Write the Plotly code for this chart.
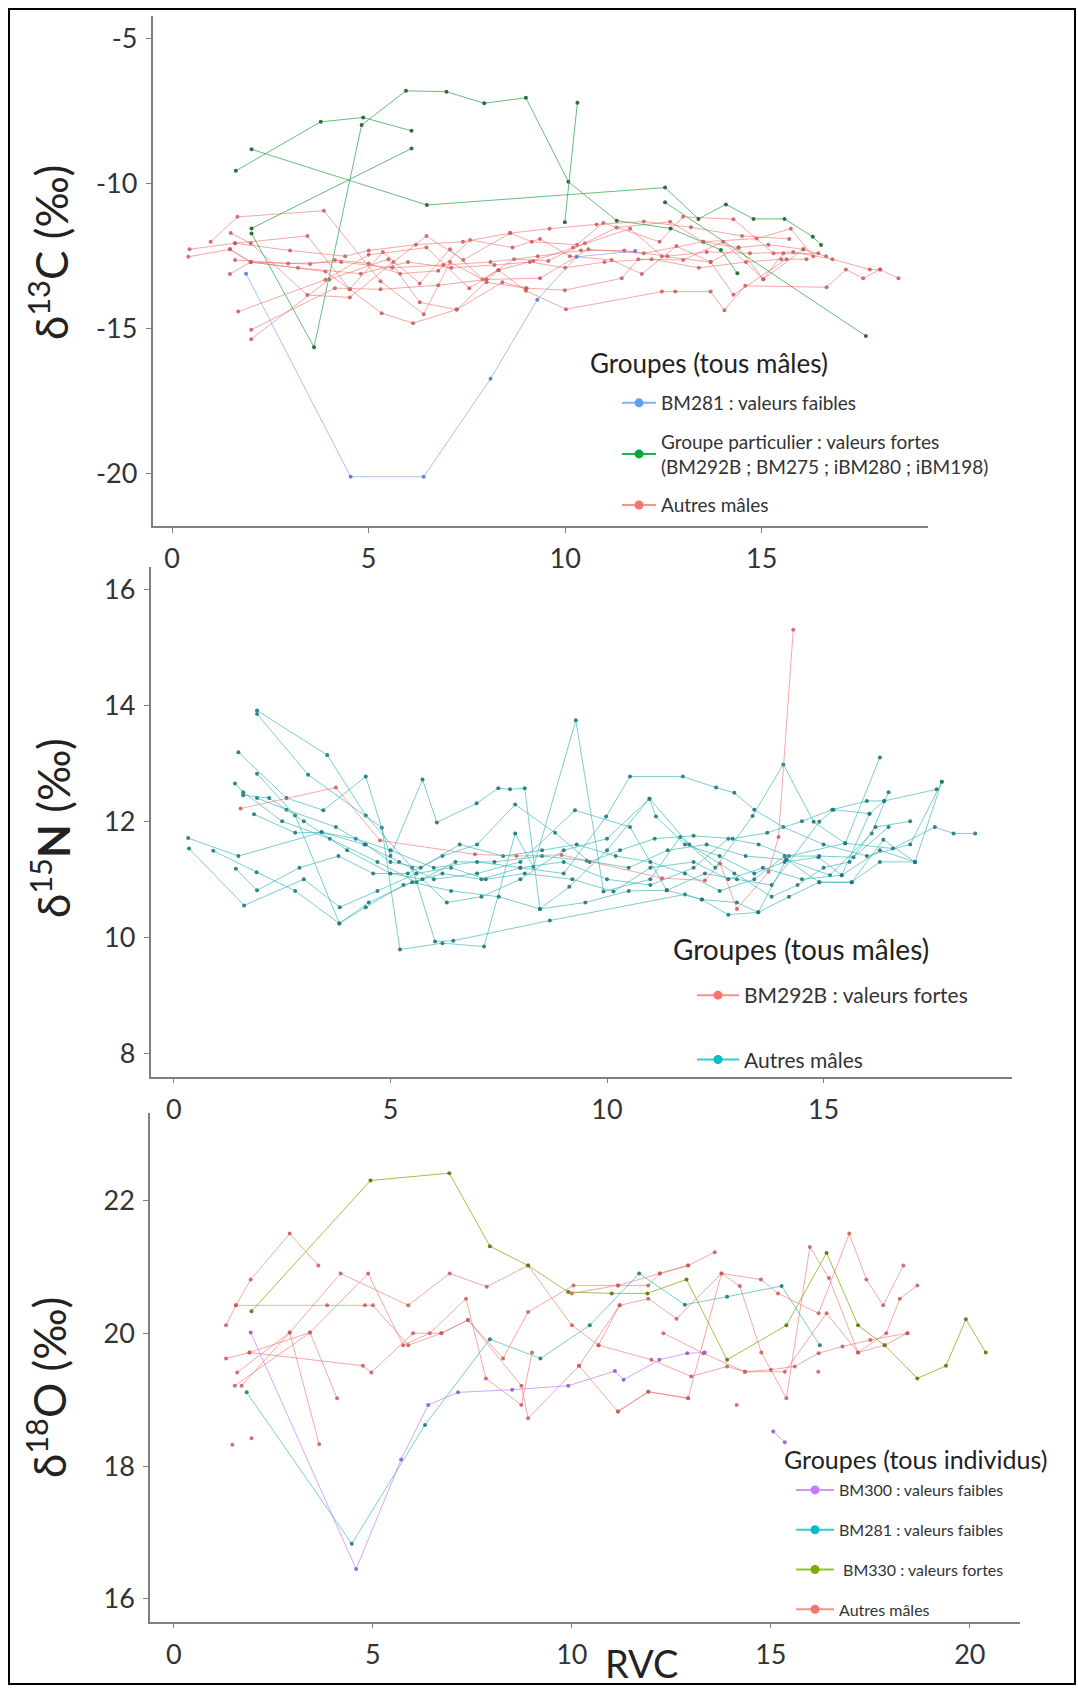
import plotly.graph_objects as go

W, H = 1078, 1691

# ---------------- Panel 1 : d13C ----------------
c13_ticks = [-5, -10, -15, -20]
c13_ticklabels = ["-5", "-10", "-15", "-20"]
x_ticks_1 = [0, 5, 10, 15]

c13_blue_x = [[1.88, 4.54, 6.40, 8.10, 9.29, 10.29, 11.78]]
c13_blue_y = [[-13.10, -20.11, -20.11, -16.73, -14.00, -12.52, -12.32]]

c13_green_x = [
    [1.62, 3.78, 4.86, 6.09],
    [2.02, 3.61, 4.82, 5.95, 6.98, 7.94, 9.00, 10.08, 11.31, 12.68, 13.96, 14.38],
    [2.02, 6.09],
    [2.02, 6.48, 12.54, 13.39, 14.09, 14.79, 15.58, 16.30, 16.51],
    [9.99, 10.31],
    [12.54, 17.65],
]
c13_green_y = [
    [-9.55, -7.86, -7.71, -8.17],
    [-11.71, -15.64, -7.97, -6.79, -6.82, -7.22, -7.03, -9.93, -11.27, -11.54, -12.28, -13.09],
    [-11.54, -8.78],
    [-8.81, -10.73, -10.13, -11.21, -10.71, -11.21, -11.21, -11.83, -12.11],
    [-11.33, -7.20],
    [-10.64, -15.25],
]

c13_red_x = [
    [0.44, 1.60, 3.44, 4.52, 5.33, 6.13, 7.24, 8.30, 9.00, 10.02, 12.46, 12.80, 13.70, 14.05, 14.58, 16.65, 17.14, 17.58, 18.01, 18.48],
    [0.41, 1.47, 2.00, 3.51, 4.14, 5.00, 5.80, 6.77, 7.58, 8.66, 9.36, 10.12, 11.18, 11.95, 12.83, 13.70, 14.41, 15.17, 16.06, 16.64],
    [0.98, 1.66, 3.86, 5.30, 6.40, 7.07, 7.90, 8.70, 9.57, 10.50, 11.31, 12.67, 13.51, 14.87, 15.74, 16.31],
    [1.49, 2.00, 3.44, 4.52, 5.63, 6.47, 7.41, 8.60, 9.15, 10.30, 10.97, 12.40, 13.00, 14.28, 15.30, 16.44],
    [1.47, 2.00, 3.90, 4.52, 5.36, 6.30, 7.07, 8.00, 9.00, 9.99, 11.44, 11.86, 13.00, 14.02, 15.04, 15.55],
    [1.68, 3.90, 5.00, 6.47, 7.56, 8.30, 9.19, 10.20, 11.65, 12.46, 13.70, 14.28, 15.63, 16.14],
    [2.01, 4.14, 5.30, 6.77, 8.00, 9.36, 10.59, 12.00, 13.51, 14.41, 15.04, 16.06],
    [2.01, 4.00, 5.50, 6.30, 7.24, 8.40, 9.02],
    [1.60, 2.95, 4.30, 5.60, 6.90, 8.10, 9.30, 10.40, 11.50, 12.60, 13.60, 14.70, 15.80, 16.80, 17.75, 18.01],
    [1.60, 3.00, 4.40, 5.00, 6.20, 7.40, 8.60, 9.60, 10.80, 12.00, 13.20, 14.50, 15.70],
    [1.47, 2.00, 3.20, 4.80, 6.00, 7.10, 8.20, 9.10, 10.00, 11.00, 12.20, 13.40, 14.60, 15.50],
]
c13_red_y = [
    [-12.26, -12.05, -11.80, -13.64, -14.47, -14.81, -14.34, -12.98, -13.69, -14.33, -13.72, -13.72, -13.72, -14.36, -13.52, -13.57, -12.96, -13.26, -12.96, -13.26],
    [-12.52, -12.26, -12.70, -12.77, -12.63, -12.75, -13.10, -13.00, -11.94, -12.20, -11.90, -12.50, -12.63, -13.11, -12.15, -12.70, -12.20, -12.10, -12.26, -12.50],
    [-12.00, -11.14, -10.93, -13.36, -14.50, -12.70, -13.30, -12.60, -12.66, -12.05, -11.51, -11.31, -12.00, -11.89, -11.55, -12.50],
    [-11.70, -12.05, -13.84, -13.92, -12.70, -11.80, -12.63, -11.70, -12.00, -12.10, -11.35, -12.00, -11.14, -11.22, -12.40, -12.40],
    [-13.11, -12.70, -13.03, -13.64, -12.35, -13.44, -12.26, -13.40, -13.60, -13.67, -13.26, -12.60, -12.63, -12.00, -13.29, -12.40],
    [-14.41, -13.31, -12.45, -12.20, -13.60, -12.98, -12.66, -12.20, -11.55, -12.50, -12.70, -13.83, -12.60, -12.60],
    [-15.04, -13.60, -13.64, -13.50, -13.30, -13.26, -12.26, -12.40, -12.00, -12.20, -13.29, -12.26],
    [-15.36, -13.30, -12.60, -14.09, -14.34, -13.40, -13.60],
    [-12.63, -12.75, -12.70, -12.90, -12.80, -12.70, -12.50, -12.30, -12.30, -12.50, -12.35, -12.40, -12.35, -12.60, -12.96, -12.96],
    [-12.05, -12.30, -12.50, -12.30, -12.10, -12.00, -11.70, -11.55, -11.40, -11.30, -11.50, -11.80, -11.90],
    [-12.26, -12.70, -12.90, -13.10, -12.70, -12.90, -12.80, -12.70, -12.90, -12.70, -12.60, -12.90, -12.70, -12.60],
]

# ---------------- Panel 2 : d15N ----------------
n15_ticks = [8, 10, 12, 14, 16]
x_ticks_2 = [0, 5, 10, 15]

n15_red_x = [[1.54, 3.74, 4.76, 6.95, 7.91, 8.95, 11.27, 12.26, 12.61, 13.00, 13.73, 13.96, 14.30]]
n15_red_y = [[12.22, 12.58, 11.67, 11.43, 11.40, 11.42, 11.02, 10.98, 11.27, 10.49, 11.13, 11.73, 15.30]]

n15_cyan_x = [
    [1.92, 3.54, 4.43, 5.50, 6.03, 6.45, 8.68, 11.80, 12.19, 12.80, 13.49, 14.14, 14.90, 15.65, 16.38, 17.11],
    [1.92, 3.10, 4.80, 5.22, 6.20, 7.16, 7.88, 8.30, 9.28, 9.92, 11.00, 11.69, 12.50, 13.36, 14.07, 14.77, 15.50, 16.30],
    [1.49, 2.60, 3.45, 4.43, 5.00, 5.74, 6.07, 6.99, 7.49, 7.76, 8.10, 8.45, 9.13, 10.00, 10.98, 11.13, 11.80, 12.60, 13.40, 14.10, 14.88, 15.42, 16.06],
    [1.92, 2.80, 3.82, 4.43, 5.30, 6.20, 7.10, 8.00, 9.00, 9.98, 10.53, 11.75, 12.52, 12.94, 13.40, 14.07, 15.00, 16.00, 17.00, 17.73],
    [1.41, 1.60, 2.50, 3.60, 4.70, 5.60, 6.50, 7.40, 8.50, 9.53, 10.50, 11.40, 12.30, 13.20, 14.14, 15.15, 16.11, 16.50],
    [1.85, 2.80, 3.41, 4.40, 5.20, 6.00, 7.00, 8.00, 9.26, 10.53, 11.38, 12.26, 13.00, 13.80, 14.90, 15.23, 16.06, 16.40],
    [0.33, 1.49, 3.41, 4.20, 5.00, 6.00, 7.00, 8.00, 9.00, 10.00, 11.00, 12.00, 12.80, 13.50, 14.20, 15.50, 16.60, 17.57, 18.00, 18.50],
    [0.35, 1.62, 3.00, 3.83, 4.70, 5.60, 6.40, 7.20, 8.10, 9.20, 10.15, 11.00, 12.00, 12.80, 13.60, 14.50, 15.42, 16.30, 17.11],
    [0.91, 1.91, 2.80, 3.82, 4.50, 5.50, 6.40, 7.50, 8.45, 9.50, 10.50, 11.38, 12.19, 13.00, 13.49, 14.20, 14.90, 15.65, 16.30, 17.11, 17.73],
    [1.43, 1.92, 2.90, 3.80, 4.60, 5.40, 6.20, 7.00, 7.88, 8.80, 9.60, 10.30, 11.10, 12.00, 12.90, 13.70, 14.50, 15.20, 16.00, 16.40, 17.61],
    [1.92, 2.60, 3.74, 4.43, 5.00, 5.70, 6.60, 7.60, 8.50, 9.30, 10.20, 11.00, 11.80, 12.60, 13.40, 14.10, 14.90, 15.69, 16.50],
    [1.60, 2.20, 3.00, 4.00, 5.00, 5.74, 6.30, 7.10, 8.00, 9.00, 10.00, 10.98, 11.90, 12.94, 13.80, 14.40, 15.00, 15.60, 16.20, 17.00],
]
n15_cyan_y = [
    [13.91, 13.14, 12.10, 11.20, 9.93, 9.94, 10.29, 10.74, 10.65, 10.39, 10.43, 11.34, 10.95, 10.95, 11.68, 11.30],
    [13.85, 12.80, 11.89, 9.79, 9.90, 9.84, 11.79, 11.21, 13.74, 10.79, 11.00, 11.73, 11.20, 12.09, 12.98, 11.99, 11.62, 13.10],
    [13.19, 12.40, 12.19, 12.77, 11.40, 12.72, 11.98, 12.31, 12.57, 12.55, 12.57, 10.49, 10.87, 11.50, 12.39, 12.08, 11.60, 11.40, 11.10, 11.30, 11.38, 11.07, 12.13],
    [12.82, 12.10, 10.24, 10.52, 10.90, 11.10, 11.00, 11.20, 11.10, 12.08, 12.77, 12.77, 12.58, 12.49, 12.20, 11.90, 11.60, 11.40, 11.60, 12.68],
    [12.65, 12.50, 12.00, 11.70, 11.30, 10.95, 11.30, 11.30, 11.40, 11.32, 11.20, 11.50, 11.60, 11.40, 11.34, 11.07, 11.79, 12.50],
    [12.12, 11.80, 11.81, 11.60, 11.30, 11.00, 11.10, 11.30, 12.19, 11.90, 10.81, 11.10, 11.00, 10.90, 11.99, 12.20, 12.13, 12.35],
    [11.71, 11.40, 11.81, 11.70, 11.50, 11.20, 11.30, 11.20, 11.30, 11.00, 10.90, 11.20, 11.70, 11.60, 11.40, 11.62, 11.53, 11.90, 11.79, 11.79],
    [11.53, 10.55, 11.00, 10.52, 10.80, 11.10, 11.20, 11.00, 11.10, 11.00, 10.79, 11.20, 11.30, 11.00, 11.20, 11.00, 11.07, 11.50, 11.30],
    [11.49, 11.12, 10.80, 10.24, 10.60, 10.95, 10.80, 10.70, 10.49, 10.60, 10.80, 10.81, 10.65, 10.60, 10.43, 10.70, 10.95, 10.95, 11.30, 11.30, 12.68],
    [11.18, 10.81, 11.20, 11.40, 11.10, 11.10, 11.40, 11.60, 12.29, 11.80, 11.30, 11.50, 11.70, 11.75, 11.70, 11.80, 12.00, 12.20, 12.35, 12.35, 12.55],
    [12.40, 12.20, 11.90, 11.60, 11.30, 11.20, 11.60, 11.40, 11.50, 11.60, 11.40, 11.30, 11.10, 10.80, 11.00, 11.40, 11.40, 11.38, 11.90],
    [12.45, 12.40, 12.00, 11.50, 11.10, 11.00, 10.60, 10.70, 11.00, 11.50, 11.70, 12.39, 11.60, 11.10, 10.70, 10.90, 11.20, 11.30, 11.90, 12.00],
]

# ---------------- Panel 3 : d18O ----------------
o18_ticks = [16, 18, 20, 22]
x_ticks_3 = [0, 5, 10, 15, 20]

o18_purple_x = [[1.93, 4.58, 5.71, 6.39, 7.14, 8.50, 9.91, 11.08, 11.30, 12.20, 12.90, 13.34], [15.06, 15.35]]
o18_purple_y = [[20.01, 16.45, 18.10, 18.92, 19.11, 19.15, 19.21, 19.43, 19.30, 19.60, 19.70, 19.71], [18.52, 18.36]]

o18_teal_x = [[1.83, 4.47, 6.31, 7.94, 9.21, 10.45, 11.69, 12.84, 13.90, 15.27, 16.23]]
o18_teal_y = [[19.11, 16.83, 18.62, 19.91, 19.62, 20.12, 20.90, 20.43, 20.55, 20.71, 19.82]]

o18_olive_x = [[1.95, 4.94, 6.92, 7.94, 8.90, 9.91, 11.00, 11.90, 12.88, 13.90, 15.39, 16.40, 17.19, 17.86, 18.68, 19.40, 19.90, 20.40]]
o18_olive_y = [[20.33, 22.30, 22.41, 21.31, 21.02, 20.62, 20.60, 20.60, 20.81, 19.60, 20.12, 21.21, 20.12, 19.82, 19.32, 19.51, 20.21, 19.71]]

o18_red_x = [
    [1.31, 1.56, 1.93, 2.91, 3.63],
    [1.56, 3.85, 4.80, 5.00, 5.89, 6.72, 7.39, 8.27, 8.90, 10.04, 11.16, 11.92, 12.21, 12.92],
    [1.59, 2.91, 4.19, 5.89, 6.93, 7.86, 8.90, 10.00, 10.67, 11.20],
    [1.90, 3.42, 4.88, 5.76, 6.43, 7.34, 7.84, 8.73, 9.00],
    [1.53, 3.42, 4.10],
    [1.70, 2.91, 3.65],
    [1.31, 1.90, 4.75, 4.96, 6.01, 6.72, 7.39, 8.73, 8.90, 10.18, 11.16, 11.92, 12.92],
    [10.00, 11.16, 12.21, 12.92, 13.59],
    [10.18, 11.20, 11.92, 12.63, 13.76, 14.22, 14.76, 15.39, 15.98, 16.46, 17.19, 17.86, 18.43],
    [11.16, 11.92, 12.92, 13.76, 14.75, 15.18, 16.20, 16.97, 17.40, 17.82, 18.33],
    [12.30, 13.30, 14.35, 15.35, 16.40, 17.19, 17.90, 18.24, 18.68],
    [10.67, 12.00, 13.00, 13.90, 14.35, 15.00, 15.60, 16.20, 16.80, 17.50, 18.43],
    [1.47], [1.95], [14.14], [16.19],
]
o18_red_y = [
    [20.12, 20.42, 20.81, 21.50, 21.02],
    [20.42, 20.42, 20.42, 20.42, 19.82, 20.00, 20.20, 19.62, 20.32, 20.72, 20.72, 20.72, 20.90, 21.02],
    [19.41, 20.01, 20.90, 20.42, 20.90, 20.70, 21.02, 20.12, 19.82, 20.42],
    [19.71, 20.01, 20.90, 19.82, 20.00, 20.52, 19.32, 18.92, 19.71],
    [19.21, 20.01, 19.02],
    [19.21, 20.01, 18.33],
    [19.62, 19.71, 19.51, 19.41, 20.00, 20.00, 20.20, 19.21, 18.72, 19.51, 18.82, 19.12, 19.02],
    [20.60, 20.72, 20.90, 21.02, 21.22],
    [19.51, 20.42, 20.52, 20.22, 20.90, 20.71, 19.71, 19.02, 21.30, 20.83, 19.71, 19.82, 20.00],
    [18.82, 19.12, 19.02, 20.90, 20.81, 20.60, 20.30, 21.50, 20.81, 20.42, 21.02],
    [20.00, 19.70, 19.42, 19.42, 20.30, 19.71, 20.00, 20.52, 20.72],
    [19.82, 19.60, 19.35, 19.50, 19.42, 19.45, 19.50, 19.70, 19.80, 19.90, 20.00],
    [18.32], [18.42], [18.92], [19.42],
]

# ---------------- styling ----------------
FONT = "Lato"


def fx(px):
    return px / W


def fy(py):
    return 1 - py / H


fig = go.Figure()


def add_group(xs, ys, k, line_col, mark_col):
    xa = "x" if k == 1 else f"x{k}"
    ya = "y" if k == 1 else f"y{k}"
    for x, y in zip(xs, ys):
        fig.add_trace(go.Scatter(
            x=x, y=y, xaxis=xa, yaxis=ya, mode="lines+markers",
            line=dict(color=line_col, width=1),
            marker=dict(color=mark_col, size=4),
            showlegend=False, hoverinfo="x+y"))


def add_legend_entry(name, k, legend, line_col, mark_col):
    xa = "x" if k == 1 else f"x{k}"
    ya = "y" if k == 1 else f"y{k}"
    fig.add_trace(go.Scatter(
        x=[None], y=[None], xaxis=xa, yaxis=ya, mode="lines+markers", name=name,
        legend=legend, legendgroup=name + legend,
        line=dict(color=line_col, width=2), marker=dict(color=mark_col, size=9)))


RED_L, RED_M = "rgba(240,110,105,0.6)", "rgba(200,90,90,0.85)"
GRN_L, GRN_M = "rgba(50,170,80,0.75)", "rgba(30,95,45,0.9)"
BLU_L, BLU_M = "rgba(110,150,230,0.6)", "rgba(80,115,200,0.85)"
CYN_L, CYN_M = "rgba(50,180,185,0.65)", "rgba(30,120,125,0.9)"
PUR_L, PUR_M = "rgba(199,124,255,0.7)", "rgba(150,90,200,0.9)"
OLV_L, OLV_M = "rgba(140,175,30,0.8)", "rgba(100,120,20,0.95)"

# panel 1
add_group(c13_red_x, c13_red_y, 1, RED_L, RED_M)
add_group(c13_blue_x, c13_blue_y, 1, BLU_L, BLU_M)
add_group(c13_green_x, c13_green_y, 1, GRN_L, GRN_M)
add_legend_entry("BM281 : valeurs faibles", 1, "legend", "rgba(97,156,255,0.8)", "#619CFF")
add_legend_entry("Groupe particulier : valeurs fortes<br>(BM292B ; BM275 ; iBM280 ; iBM198)", 1, "legend",
                 "rgba(0,170,60,0.9)", "#00A83A")
add_legend_entry("Autres mâles", 1, "legend", "rgba(248,118,109,0.8)", "#F8766D")

# panel 2
add_group(n15_cyan_x, n15_cyan_y, 2, CYN_L, CYN_M)
add_group(n15_red_x, n15_red_y, 2, RED_L, RED_M)
add_legend_entry("BM292B : valeurs fortes", 2, "legend2", "rgba(248,118,109,0.8)", "#F8766D")
add_legend_entry("Autres mâles", 2, "legend2", "rgba(0,191,196,0.8)", "#00BFC4")

# panel 3
add_group(o18_red_x, o18_red_y, 3, RED_L, RED_M)
add_group(o18_purple_x, o18_purple_y, 3, PUR_L, PUR_M)
add_group(o18_teal_x, o18_teal_y, 3, CYN_L, CYN_M)
add_group(o18_olive_x, o18_olive_y, 3, OLV_L, OLV_M)
add_legend_entry("BM300 : valeurs faibles", 3, "legend3", "rgba(199,124,255,0.8)", "#C77CFF")
add_legend_entry("BM281 : valeurs faibles", 3, "legend3", "rgba(0,191,196,0.8)", "#00BFC4")
add_legend_entry(" BM330 : valeurs fortes", 3, "legend3", "rgba(124,174,0,0.8)", "#7CAE00")
add_legend_entry("Autres mâles", 3, "legend3", "rgba(248,118,109,0.8)", "#F8766D")

AX = dict(showline=True, linecolor="#808080", linewidth=1.5, ticks="outside", ticklen=5,
          tickcolor="#808080", tickwidth=1.2, showgrid=False, zeroline=False,
          tickfont=dict(family=FONT, size=27, color="#333333"), ticklabelstandoff=3)

fig.update_layout(
    width=W, height=H, paper_bgcolor="white", plot_bgcolor="white",
    margin=dict(l=0, r=0, t=0, b=0), showlegend=True,
    font=dict(family=FONT, color="#333333"),
    xaxis=dict(domain=[fx(152.5), fx(927.6)], range=[-0.50, 19.22], anchor="y",
               tickvals=x_ticks_1, **AX),
    yaxis=dict(domain=[fy(526), fy(15.5)], range=[-21.81, -4.19], anchor="x",
               tickvals=c13_ticks, ticktext=c13_ticklabels, **AX),
    xaxis2=dict(domain=[fx(150.5), fx(1012)], range=[-0.54, 19.35], anchor="y2",
                tickvals=x_ticks_2, **AX),
    yaxis2=dict(domain=[fy(1076.6), fy(566.5)], range=[7.6, 16.39], anchor="x2",
                tickvals=n15_ticks, **AX),
    xaxis3=dict(domain=[fx(150), fx(1020)], range=[-0.60, 21.26], anchor="y3",
                tickvals=x_ticks_3, **AX),
    yaxis3=dict(domain=[fy(1621.5), fy(1113.4)], range=[15.66, 23.31], anchor="x3",
                tickvals=o18_ticks, **AX),
    legend=dict(x=fx(617), y=fy(384), xanchor="left", yanchor="top", bgcolor="rgba(0,0,0,0)",
                font=dict(family=FONT, size=19, color="#333333"), tracegroupgap=11, itemwidth=34),
    legend2=dict(x=fx(692), y=fy(975), xanchor="left", yanchor="top", bgcolor="rgba(0,0,0,0)",
                 font=dict(family=FONT, size=21, color="#333333"), tracegroupgap=34, itemwidth=42),
    legend3=dict(x=fx(791), y=fy(1473), xanchor="left", yanchor="top", bgcolor="rgba(0,0,0,0)",
                 font=dict(family=FONT, size=16, color="#333333"), tracegroupgap=16, itemwidth=38),
)

ann = [
    dict(text="δ<sup>13</sup>C (‰)", x=fx(48), y=fy(253), size=44),
    dict(text="δ<sup>15</sup><b>N</b> (‰)", x=fx(50), y=fy(828), size=44),
    dict(text="δ<sup>18</sup>O (‰)", x=fx(46), y=fy(1388), size=44),
]
for a in ann:
    fig.add_annotation(text=a["text"], x=a["x"], y=a["y"], xref="paper", yref="paper",
                       showarrow=False, textangle=-90, xanchor="center", yanchor="middle",
                       font=dict(family=FONT, size=a["size"], color="#222222"))

fig.add_annotation(text="RVC", x=fx(642), y=fy(1663), xref="paper", yref="paper", showarrow=False,
                   xanchor="center", yanchor="middle", font=dict(family=FONT, size=38, color="#222222"))

for t, x0, y0, s in [("Groupes (tous mâles)", 588, 363, 26),
                     ("Groupes (tous mâles)", 671, 949, 28),
                     ("Groupes (tous individus)", 782, 1459, 25)]:
    fig.add_annotation(text=t, x=fx(x0), y=fy(y0), xref="paper", yref="paper", showarrow=False,
                       xanchor="left", yanchor="middle", font=dict(family=FONT, size=s, color="#222222"))

fig.add_shape(type="rect", xref="paper", yref="paper", x0=fx(9), x1=fx(1075), y0=fy(1684), y1=fy(9),
              line=dict(color="black", width=2), fillcolor="rgba(0,0,0,0)", layer="above")

fig.write_html("out.html", config={"displayModeBar": False},
               post_script="document.body.style.margin='0px';document.body.style.overflow='hidden';")
